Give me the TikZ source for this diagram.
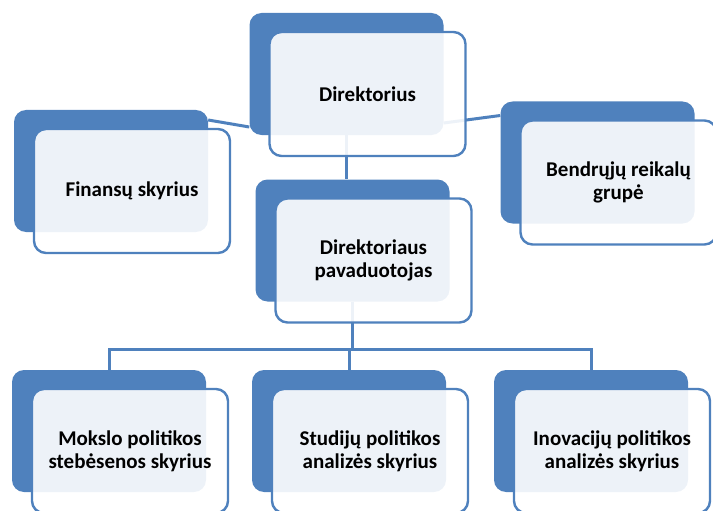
\documentclass[tikz,border=0pt]{standalone}
\usepackage{fontspec}
\setmainfont{Carlito}
\definecolor{boxblue}{HTML}{4F81BD}

\begin{document}
\begin{tikzpicture}[x=1pt,y=-1pt,
    back/.style={fill=boxblue,rounded corners=12pt,minimum width=194pt,minimum height=122pt,inner sep=0pt},
    front/.style={draw=boxblue,line width=2.4pt,fill=white,fill opacity=0.9,text opacity=1,rounded corners=12pt,%
      minimum width=196pt,minimum height=124pt,inner sep=0pt,align=center,font=\bfseries\fontsize{21}{23}\selectfont},
    link/.style={draw=boxblue,line width=3pt}]
          \useasboundingbox (0,0) rectangle (713,511);

          % dark boxes
          \node[back] (dirb) at (346.5,74) {};
          \node[back] (finb) at (111,171) {};
          \node[back] (bndb) at (597.5,162.5) {};
          \node[back] (pavb) at (352.5,240.5) {};
          \node[back] (mokb) at (109,431) {};
          \node[back] (stub) at (349,431) {};
          \node[back] (inob) at (591,431) {};

          % connectors
          \coordinate (bus) at (352,349);
          \draw[link] ([yshift=51]finb.east) -- ([yshift=-53]dirb.west);
          \draw[link] ([yshift=-49]dirb.east) -- ([yshift=47]bndb.west);
          \draw[link] (dirb.south) -- (dirb.south |- pavb.north);
          \draw[link] (pavb.south) -- (pavb.south |- bus);
          \draw[link] (mokb.north) |- (bus) -| (inob.north);
          \draw[link] (stub.north) -- (stub.north |- bus);

          % light boxes
          \node[front] (dir) at ([shift={(21,20)}]dirb) {Direktorius};
          \node[front] (fin) at ([shift={(21,20)}]finb) {Finansų skyrius};
          \node[front] (bnd) at ([shift={(21,20)}]bndb) {Bendrųjų reikalų\\grupė};
          \node[front] (pav) at ([shift={(21,20)}]pavb) {Direktoriaus\\pavaduotojas};
          \node[front] (mok) at ([shift={(21,20)}]mokb) {Mokslo politikos\\stebėsenos skyrius};
          \node[front] (stu) at ([shift={(21,20)}]stub) {Studijų politikos\\analizės skyrius};
          \node[front] (ino) at ([shift={(21,20)}]inob) {Inovacijų politikos\\analizės skyrius};

          \end{tikzpicture}
\end{document}
